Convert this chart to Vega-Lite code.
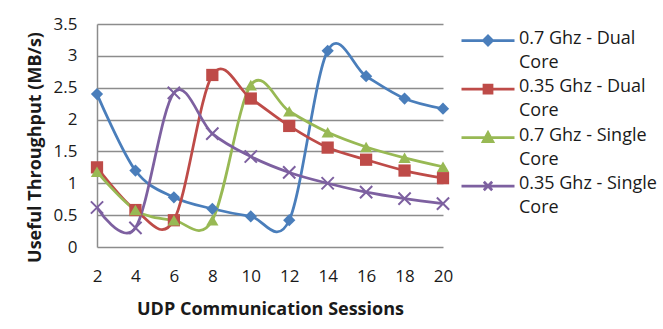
{
  "$schema": "https://vega.github.io/schema/vega-lite/v6.json",
  "width": 346,
  "height": 223,
  "autosize": "none",
  "padding": {"left": 97, "top": 24, "right": 220, "bottom": 82},
  "background": "white",
  "config": {
    "font": "Open Sans",
    "view": {"stroke": null},
    "axis": {"labelFont": "Open Sans", "titleFont": "Open Sans", "labelColor": "#1a1a1a", "titleColor": "#1a1a1a", "labelFontSize": 17, "titleFontSize": 18, "titleFontWeight": "bold"}
  },
  "data": {
    "values": [
      {"sessions": 2, "throughput": 2.4, "config": "0.7 Ghz - Dual Core"},
      {"sessions": 4, "throughput": 1.2, "config": "0.7 Ghz - Dual Core"},
      {"sessions": 6, "throughput": 0.78, "config": "0.7 Ghz - Dual Core"},
      {"sessions": 8, "throughput": 0.6, "config": "0.7 Ghz - Dual Core"},
      {"sessions": 10, "throughput": 0.48, "config": "0.7 Ghz - Dual Core"},
      {"sessions": 12, "throughput": 0.42, "config": "0.7 Ghz - Dual Core"},
      {"sessions": 14, "throughput": 3.08, "config": "0.7 Ghz - Dual Core"},
      {"sessions": 16, "throughput": 2.68, "config": "0.7 Ghz - Dual Core"},
      {"sessions": 18, "throughput": 2.33, "config": "0.7 Ghz - Dual Core"},
      {"sessions": 20, "throughput": 2.17, "config": "0.7 Ghz - Dual Core"},
      {"sessions": 2, "throughput": 1.25, "config": "0.35 Ghz - Dual Core"},
      {"sessions": 4, "throughput": 0.58, "config": "0.35 Ghz - Dual Core"},
      {"sessions": 6, "throughput": 0.42, "config": "0.35 Ghz - Dual Core"},
      {"sessions": 8, "throughput": 2.7, "config": "0.35 Ghz - Dual Core"},
      {"sessions": 10, "throughput": 2.33, "config": "0.35 Ghz - Dual Core"},
      {"sessions": 12, "throughput": 1.9, "config": "0.35 Ghz - Dual Core"},
      {"sessions": 14, "throughput": 1.56, "config": "0.35 Ghz - Dual Core"},
      {"sessions": 16, "throughput": 1.37, "config": "0.35 Ghz - Dual Core"},
      {"sessions": 18, "throughput": 1.2, "config": "0.35 Ghz - Dual Core"},
      {"sessions": 20, "throughput": 1.08, "config": "0.35 Ghz - Dual Core"},
      {"sessions": 2, "throughput": 1.18, "config": "0.7 Ghz - Single Core"},
      {"sessions": 4, "throughput": 0.58, "config": "0.7 Ghz - Single Core"},
      {"sessions": 6, "throughput": 0.42, "config": "0.7 Ghz - Single Core"},
      {"sessions": 8, "throughput": 0.42, "config": "0.7 Ghz - Single Core"},
      {"sessions": 10, "throughput": 2.54, "config": "0.7 Ghz - Single Core"},
      {"sessions": 12, "throughput": 2.13, "config": "0.7 Ghz - Single Core"},
      {"sessions": 14, "throughput": 1.8, "config": "0.7 Ghz - Single Core"},
      {"sessions": 16, "throughput": 1.57, "config": "0.7 Ghz - Single Core"},
      {"sessions": 18, "throughput": 1.4, "config": "0.7 Ghz - Single Core"},
      {"sessions": 20, "throughput": 1.26, "config": "0.7 Ghz - Single Core"},
      {"sessions": 2, "throughput": 0.62, "config": "0.35 Ghz - Single Core"},
      {"sessions": 4, "throughput": 0.3, "config": "0.35 Ghz - Single Core"},
      {"sessions": 6, "throughput": 2.42, "config": "0.35 Ghz - Single Core"},
      {"sessions": 8, "throughput": 1.78, "config": "0.35 Ghz - Single Core"},
      {"sessions": 10, "throughput": 1.42, "config": "0.35 Ghz - Single Core"},
      {"sessions": 12, "throughput": 1.17, "config": "0.35 Ghz - Single Core"},
      {"sessions": 14, "throughput": 1.0, "config": "0.35 Ghz - Single Core"},
      {"sessions": 16, "throughput": 0.86, "config": "0.35 Ghz - Single Core"},
      {"sessions": 18, "throughput": 0.76, "config": "0.35 Ghz - Single Core"},
      {"sessions": 20, "throughput": 0.68, "config": "0.35 Ghz - Single Core"}
    ]
  },
  "encoding": {
    "x": {
      "field": "sessions", "type": "quantitative",
      "scale": {"domain": [2, 20], "nice": false, "zero": false},
      "axis": {"values": [2, 4, 6, 8, 10, 12, 14, 16, 18, 20], "grid": false, "domain": false, "ticks": false, "tickSize": 0, "labelPadding": 21, "title": "UDP Communication Sessions", "titlePadding": 16, "labelFlush": false}
    },
    "y": {
      "field": "throughput", "type": "quantitative",
      "scale": {"domain": [0, 3.5], "nice": false},
      "axis": {"values": [0, 0.5, 1, 1.5, 2, 2.5, 3, 3.5], "format": ".1~f", "grid": true, "gridColor": "#8c8c8c", "gridWidth": 1.5, "domain": true, "domainColor": "#8c8c8c", "domainWidth": 1.5, "ticks": false, "tickSize": 0, "labelPadding": 20, "title": "Useful Throughput (MB/s)", "titlePadding": 9, "titleY": 123}
    },
    "color": {
      "field": "config", "type": "nominal",
      "scale": {"domain": ["0.7 Ghz - Dual Core", "0.35 Ghz - Dual Core", "0.7 Ghz - Single Core", "0.35 Ghz - Single Core"], "range": ["#4A7EBB", "#BE4B48", "#98B954", "#7D60A0"]},
      "legend": {
        "orient": "none", "legendX": 379.5, "legendY": 5, "title": null,
        "labelFont": "Open Sans", "labelFontSize": 18, "labelColor": "#1a1a1a",
        "labelExpr": "[replace(datum.label, ' Core', ''), 'Core']",
        "labelBaseline": "top", "labelOffset": 19.5, "labelLimit": 300,
        "symbolSize": 400, "rowPadding": 5.5,
        "encode": {
          "symbols": {"update": {
            "shape": {"signal": "datum.value == '0.7 Ghz - Dual Core' ? 'M-2.65,0H2.65M-0.45,0L0,-0.45L0.45,0L0,0.45Z' : datum.value == '0.35 Ghz - Dual Core' ? 'M-2.65,0H2.65M-0.4,-0.4H0.4V0.4H-0.4Z' : datum.value == '0.7 Ghz - Single Core' ? 'M-2.65,0H2.65M-0.48,0.4L0,-0.48L0.48,0.4Z' : 'M-2.65,0H2.65M-0.42,-0.42L0.42,0.42M-0.42,0.42L0.42,-0.42'"},
            "size": {"value": 400},
            "fill": {"signal": "scale('color', datum.value)"},
            "strokeWidth": {"value": 2.75}
          }},
          "labels": {"update": {"lineHeight": {"value": 24}, "dy": {"value": -11}}}
        }
      }
    }
  },
  "layer": [
    {"mark": {"type": "line", "interpolate": "cardinal", "tension": 0, "strokeWidth": 2.75}},
    {
      "transform": [{"filter": "datum.config != '0.35 Ghz - Single Core'"}],
      "mark": {"type": "point", "filled": true, "opacity": 1, "size": 150},
      "encoding": {
        "shape": {"field": "config", "type": "nominal", "legend": null,
          "scale": {"domain": ["0.7 Ghz - Dual Core", "0.35 Ghz - Dual Core", "0.7 Ghz - Single Core"], "range": ["diamond", "square", "triangle-up"]}}
      }
    },
    {
      "transform": [{"filter": "datum.config == '0.35 Ghz - Single Core'"}],
      "mark": {"type": "point", "filled": false, "opacity": 1, "size": 150, "strokeWidth": 2, "shape": "M-1,-1L1,1M-1,1L1,-1"}
    }
  ]
}
